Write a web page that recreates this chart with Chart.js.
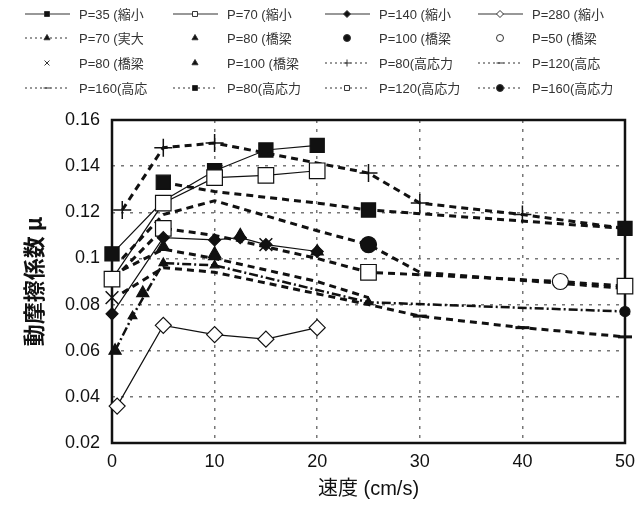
<!DOCTYPE html>
<html>
<head>
<meta charset="utf-8">
<script src="https://cdn.jsdelivr.net/npm/chart.js@4"></script>
<style>
  body { margin: 0; background: #fff; }
</style>
</head>
<body>
<canvas id="muChart" width="643" height="508"></canvas>
<script>
// 縮小模型
const vP35 = [0, 5, 10, 15, 20];
const muP35 = [0.102, 0.125, 0.138, 0.147, 0.149];
const vP70s = [0, 5, 10, 15, 20];
const muP70s = [0.091, 0.124, 0.135, 0.136, 0.138];
const vP140 = [0, 5, 10, 12.5, 15, 20];
const muP140 = [0.076, 0.109, 0.108, 0.109, 0.106, 0.103];
const vP280 = [0.5, 5, 10, 15, 20];
const muP280 = [0.036, 0.071, 0.067, 0.065, 0.070];
// 実大
const vP70r = [0.3, 2, 5, 10, 25, 50];
const muP70r = [0.060, 0.075, 0.098, 0.097, 0.081, 0.077];
// 橋梁 (点のみ)
const vB80t = [5, 10];
const muB80t = [0.105, 0.101];
const vB100d = [50];
const muB100d = [0.077];
const vB50 = [43.7];
const muB50 = [0.090];
const vB80x = [0, 15];
const muB80x = [0.083, 0.106];
const vB100t = [0.3, 3, 10, 12.5, 20];
const muB100t = [0.060, 0.085, 0.102, 0.110, 0.103];
// 高応力
const vH80p = [1, 5, 10, 25, 30, 40, 50];
const muH80p = [0.121, 0.148, 0.150, 0.137, 0.124, 0.119, 0.113];
const vH120d = [1, 5, 10, 25, 30, 40, 50];
const muH120d = [0.085, 0.096, 0.094, 0.080, 0.075, 0.070, 0.066];
const vH160d = [1, 5, 10, 20, 25];
const muH160d = [0.095, 0.104, 0.100, 0.090, 0.083];
const vH80s = [5, 10, 20, 25, 50];
const muH80s = [0.133, 0.129, 0.124, 0.121, 0.113];
const vH120s = [1, 5, 10, 20, 25, 43.7, 50];
const muH120s = [0.095, 0.113, 0.110, 0.100, 0.094, 0.090, 0.088];
const vH160c = [1, 5, 10, 20, 25, 30, 50];
const muH160c = [0.100, 0.119, 0.125, 0.112, 0.106, 0.094, 0.087];

const legendCols = [25, 173, 325, 478];
const legendRows = [14, 38, 63, 88];

function pts(xs, ys) {
  return xs.map((x, i) => ({ x: x, y: ys[i] }));
}

function series(label, xs, ys, style) {
  return Object.assign({
    label: label,
    data: pts(xs, ys),
    borderColor: "#111",
    backgroundColor: "#111",
    pointBackgroundColor: "#111",
    pointBorderColor: "#111",
    pointBorderWidth: 1.2,
    borderWidth: 1.2,
    borderDash: [],
    showLine: true,
    tension: 0,
    clip: false,
    order: 0,
  }, style);
}

const dashed = { borderDash: [7, 5], borderWidth: 3 };

const datasets = [
  series("P=35 (縮小", vP35, muP35, { pointStyle: "rect", pointRadius: [10, 0, 10, 10, 10], order: 1 }),
  series("P=70 (縮小", vP70s, muP70s, { pointStyle: "rect", pointRadius: 11, pointBackgroundColor: "#fff" }),
  series("P=140 (縮小", vP140, muP140, { pointStyle: "rectRot", pointRadius: 6 }),
  series("P=280 (縮小", vP280, muP280, { pointStyle: "rectRot", pointRadius: 8, pointBackgroundColor: "#fff" }),
  series("P=70 (実大", vP70r, muP70r, { pointStyle: "triangle", pointRadius: 5, borderDash: [9, 3, 2, 3], borderWidth: 2.5 }),
  series("P=80 (橋梁", vB80t, muB80t, { pointStyle: "triangle", pointRadius: 7, showLine: false }),
  series("P=100 (橋梁", vB100d, muB100d, { pointStyle: "circle", pointRadius: 5, showLine: false }),
  series("P=50 (橋梁", vB50, muB50, { pointStyle: "circle", pointRadius: 8, pointBackgroundColor: "#fff", showLine: false }),
  series("P=80 (橋梁", vB80x, muB80x, { pointStyle: "crossRot", pointRadius: 9, pointBorderWidth: 1.5, showLine: false }),
  series("P=100 (橋梁", vB100t, muB100t, { pointStyle: "triangle", pointRadius: 7, showLine: false }),
  series("P=80(高応力", vH80p, muH80p, Object.assign({ pointStyle: "cross", pointRadius: [9, 9, 9, 9, 9, 9, 0], pointBorderWidth: 1.5 }, dashed)),
  series("P=120(高応", vH120d, muH120d, Object.assign({ pointStyle: "line", pointRadius: [0, 0, 0, 0, 7, 7, 7], pointBorderWidth: 3 }, dashed)),
  series("P=160(高応", vH160d, muH160d, Object.assign({ pointStyle: "line", pointRadius: 0, pointBorderWidth: 3 }, dashed)),
  series("P=80(高応力", vH80s, muH80s, Object.assign({ pointStyle: "rect", pointRadius: [10, 0, 0, 10, 10] }, dashed)),
  series("P=120(高応力", vH120s, muH120s, Object.assign({ pointStyle: "rect", pointRadius: [0, 11, 0, 0, 11, 0, 11], pointBackgroundColor: "#fff", pointBorderWidth: 1.2 }, dashed)),
  series("P=160(高応力", vH160c, muH160c, Object.assign({ pointStyle: "circle", pointRadius: [0, 0, 0, 0, 8, 0, 0] }, dashed)),
];

const frameAndLegend = {
  id: "frameAndLegend",
  beforeDatasetsDraw(chart) {
    const a = chart.chartArea;
    const ctx = chart.ctx;
    ctx.save();
    ctx.strokeStyle = "#111";
    ctx.lineWidth = 2.5;
    ctx.strokeRect(a.left, a.top, a.right - a.left, a.bottom - a.top);
    ctx.restore();
  },
  afterDraw(chart) {
    const ctx = chart.ctx;
    chart.data.datasets.forEach((ds, i) => {
      const lx = legendCols[i % 4];
      const ly = legendRows[Math.floor(i / 4)];
      ctx.save();
      ctx.strokeStyle = "#333";
      if (ds.showLine !== false) {
        ctx.lineWidth = 1.2;
        ctx.setLineDash(ds.borderDash.length ? [2, 3] : []);
        ctx.beginPath();
        ctx.moveTo(lx, ly);
        ctx.lineTo(lx + 45, ly);
        ctx.stroke();
      }
      ctx.setLineDash([]);
      ctx.fillStyle = ds.pointBackgroundColor;
      ctx.strokeStyle = "#333";
      ctx.lineWidth = 1;
      Chart.helpers.drawPoint(ctx, { pointStyle: ds.pointStyle, radius: 3.5, rotation: 0, borderWidth: 1 }, lx + 22, ly);
      ctx.fillStyle = "#333";
      ctx.font = "13px 'Liberation Sans', 'Noto Sans CJK JP'";
      ctx.textBaseline = "middle";
      ctx.fillText(ds.label, lx + 54, ly + 1);
      ctx.restore();
    });
  },
};

const ctx = document.getElementById("muChart").getContext("2d");
const muChart = new Chart(ctx, {
  type: "scatter",
  data: { datasets: datasets },
  plugins: [frameAndLegend],
  options: {
    responsive: false,
    animation: false,
    layout: { padding: { top: 120, right: 18, left: 20, bottom: 7 } },
    plugins: {
      legend: { display: false },
      tooltip: { enabled: false },
    },
    scales: {
      x: {
        type: "linear",
        min: 0,
        max: 50,
        afterFit: (scale) => { scale.height = 58; },
        ticks: {
          stepSize: 10,
          padding: 8,
          color: "#111",
          font: { family: "'Liberation Sans'", size: 18 },
        },
        grid: {
          color: (c) => (c.tick && (c.tick.value === 0 || c.tick.value === 50) ? "rgba(0,0,0,0)" : "#777"),
          lineWidth: 1.5,
          drawTicks: false,
        },
        border: { display: false, dash: [3, 6] },
        title: {
          display: true,
          text: "速度 (cm/s)",
          color: "#111",
          font: { family: "'Liberation Sans', 'Noto Sans CJK JP'", size: 20 },
          padding: { top: 0, bottom: 0 },
        },
      },
      y: {
        min: 0.02,
        max: 0.16,
        afterFit: (scale) => { scale.width = 92; },
        ticks: {
          stepSize: 0.02,
          padding: 12,
          color: "#111",
          font: { family: "'Liberation Sans'", size: 18 },
          callback: (v) => String(parseFloat(v.toFixed(2))),
        },
        grid: {
          color: (c) => (c.tick && (Math.abs(c.tick.value - 0.02) < 1e-6 || Math.abs(c.tick.value - 0.16) < 1e-6) ? "rgba(0,0,0,0)" : "#777"),
          lineWidth: 1.5,
          drawTicks: false,
        },
        border: { display: false, dash: [3, 6] },
        title: {
          display: true,
          text: "動摩擦係数 μ",
          color: "#111",
          font: { family: "'Noto Sans CJK JP'", size: 22, weight: "bold" },
          padding: { top: 0, bottom: 0 },
        },
      },
    },
  },
});
</script>
</body>
</html>
